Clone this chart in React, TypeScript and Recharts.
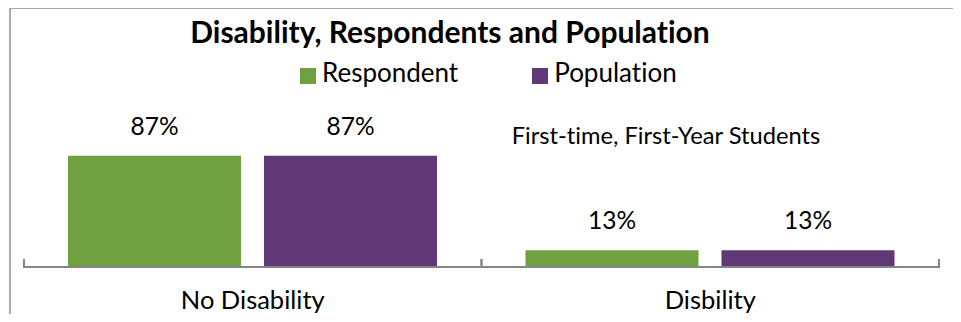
import React from 'react';
import { BarChart, Bar, XAxis, YAxis, LabelList, Legend } from 'recharts';

const categories = ['No Disability', 'Disbility'];
const seriesNames = ['Respondent', 'Population'];
const respondentValues = [87, 13];
const populationValues = [87, 13];
const seriesColors = ['#70A140', '#603876'];
const titleText = 'Disability, Respondents and Population';
const subtitleText = 'First-time, First-Year Students';

const data = categories.map((c, i) => ({
  category: c,
  [seriesNames[0]]: respondentValues[i],
  [seriesNames[1]]: populationValues[i],
}));

const FONT = 'Lato, Carlito, Calibri, sans-serif';
const AXIS_COLOR = '#868686';

const CategoryTick = (props: any) => {
  const { x, y, payload, width } = props;
  const half = payload && payload.offset ? payload.offset : width / categories.length / 2;
  return (
    <g>
      <line x1={x - half} x2={x - half} y1={y + 1} y2={y - 8} stroke={AXIS_COLOR} strokeWidth={2} />
      <line x1={x + half} x2={x + half} y1={y + 1} y2={y - 8} stroke={AXIS_COLOR} strokeWidth={2} />
      <text x={x} y={y + 42} textAnchor="middle" fontSize={25.5} fontFamily={FONT} fill="#000">
        {payload.value}
      </text>
    </g>
  );
};

const LegendContent = (props: any) => {
  const payload = [...(props.payload || [])].sort(
    (a: any, b: any) => seriesNames.indexOf(a.value) - seriesNames.indexOf(b.value)
  );
  return (
    <div style={{ display: 'flex', marginLeft: 300, fontFamily: FONT, fontSize: 26, color: '#000', lineHeight: '30px' }}>
      {payload.map((p: any, i: number) => (
        <div key={i} style={{ display: 'flex', alignItems: 'flex-start', marginRight: 74 }}>
          <span style={{ display: 'inline-block', width: 16, height: 16, background: p.color, marginRight: 6, marginTop: 11 }} />
          <span>{p.value}</span>
        </div>
      ))}
    </div>
  );
};

export default function App() {
  return (
    <div
      style={{
        position: 'relative',
        width: 961,
        height: 322,
        margin: -8,
        overflow: 'hidden',
        background: '#fff',
        fontVariantLigatures: 'none',
        fontFeatureSettings: '"liga" 0, "clig" 0',
      }}
    >
      <div style={{ position: 'absolute', left: 9, top: 7, width: 945, height: 340, border: '2px solid #aaaaaa' }} />
      <div style={{ position: 'absolute', left: 0, top: 0 }}>
        <BarChart
          width={961}
          height={322}
          data={data}
          margin={{ top: 139, right: 22, bottom: 15, left: 24 }}
          barCategoryGap={44}
          barGap={23}
        >
          <XAxis
            dataKey="category"
            height={40}
            tickSize={0}
            tickMargin={0}
            tick={<CategoryTick />}
            axisLine={{ stroke: AXIS_COLOR, strokeWidth: 2 }}
            interval={0}
          />
          <YAxis hide domain={[0, 100]} />
          <Legend
            layout="horizontal"
            verticalAlign="middle"
            align="center"
            wrapperStyle={{ top: 57, left: 0, width: 961 }}
            content={<LegendContent />}
          />
          {seriesNames.map((s, i) => (
            <Bar key={s} dataKey={s} fill={seriesColors[i]} isAnimationActive={false}>
              <LabelList
                dataKey={s}
                position="top"
                offset={21}
                formatter={(v: any) => `${v}%`}
                style={{ fontFamily: FONT, fontSize: 24.5, fill: '#000' }}
              />
            </Bar>
          ))}
        </BarChart>
      </div>
      <svg width={961} height={322} style={{ position: 'absolute', left: 0, top: 0, pointerEvents: 'none' }}>
        <text x={450} y={43} textAnchor="middle" fontFamily={FONT} fontWeight="bold" fontSize={30} fill="#000">
          {titleText}
        </text>
        <text x={666} y={144} textAnchor="middle" fontFamily={FONT} fontSize={23.7} fill="#000">
          {subtitleText}
        </text>
      </svg>
    </div>
  );
}
